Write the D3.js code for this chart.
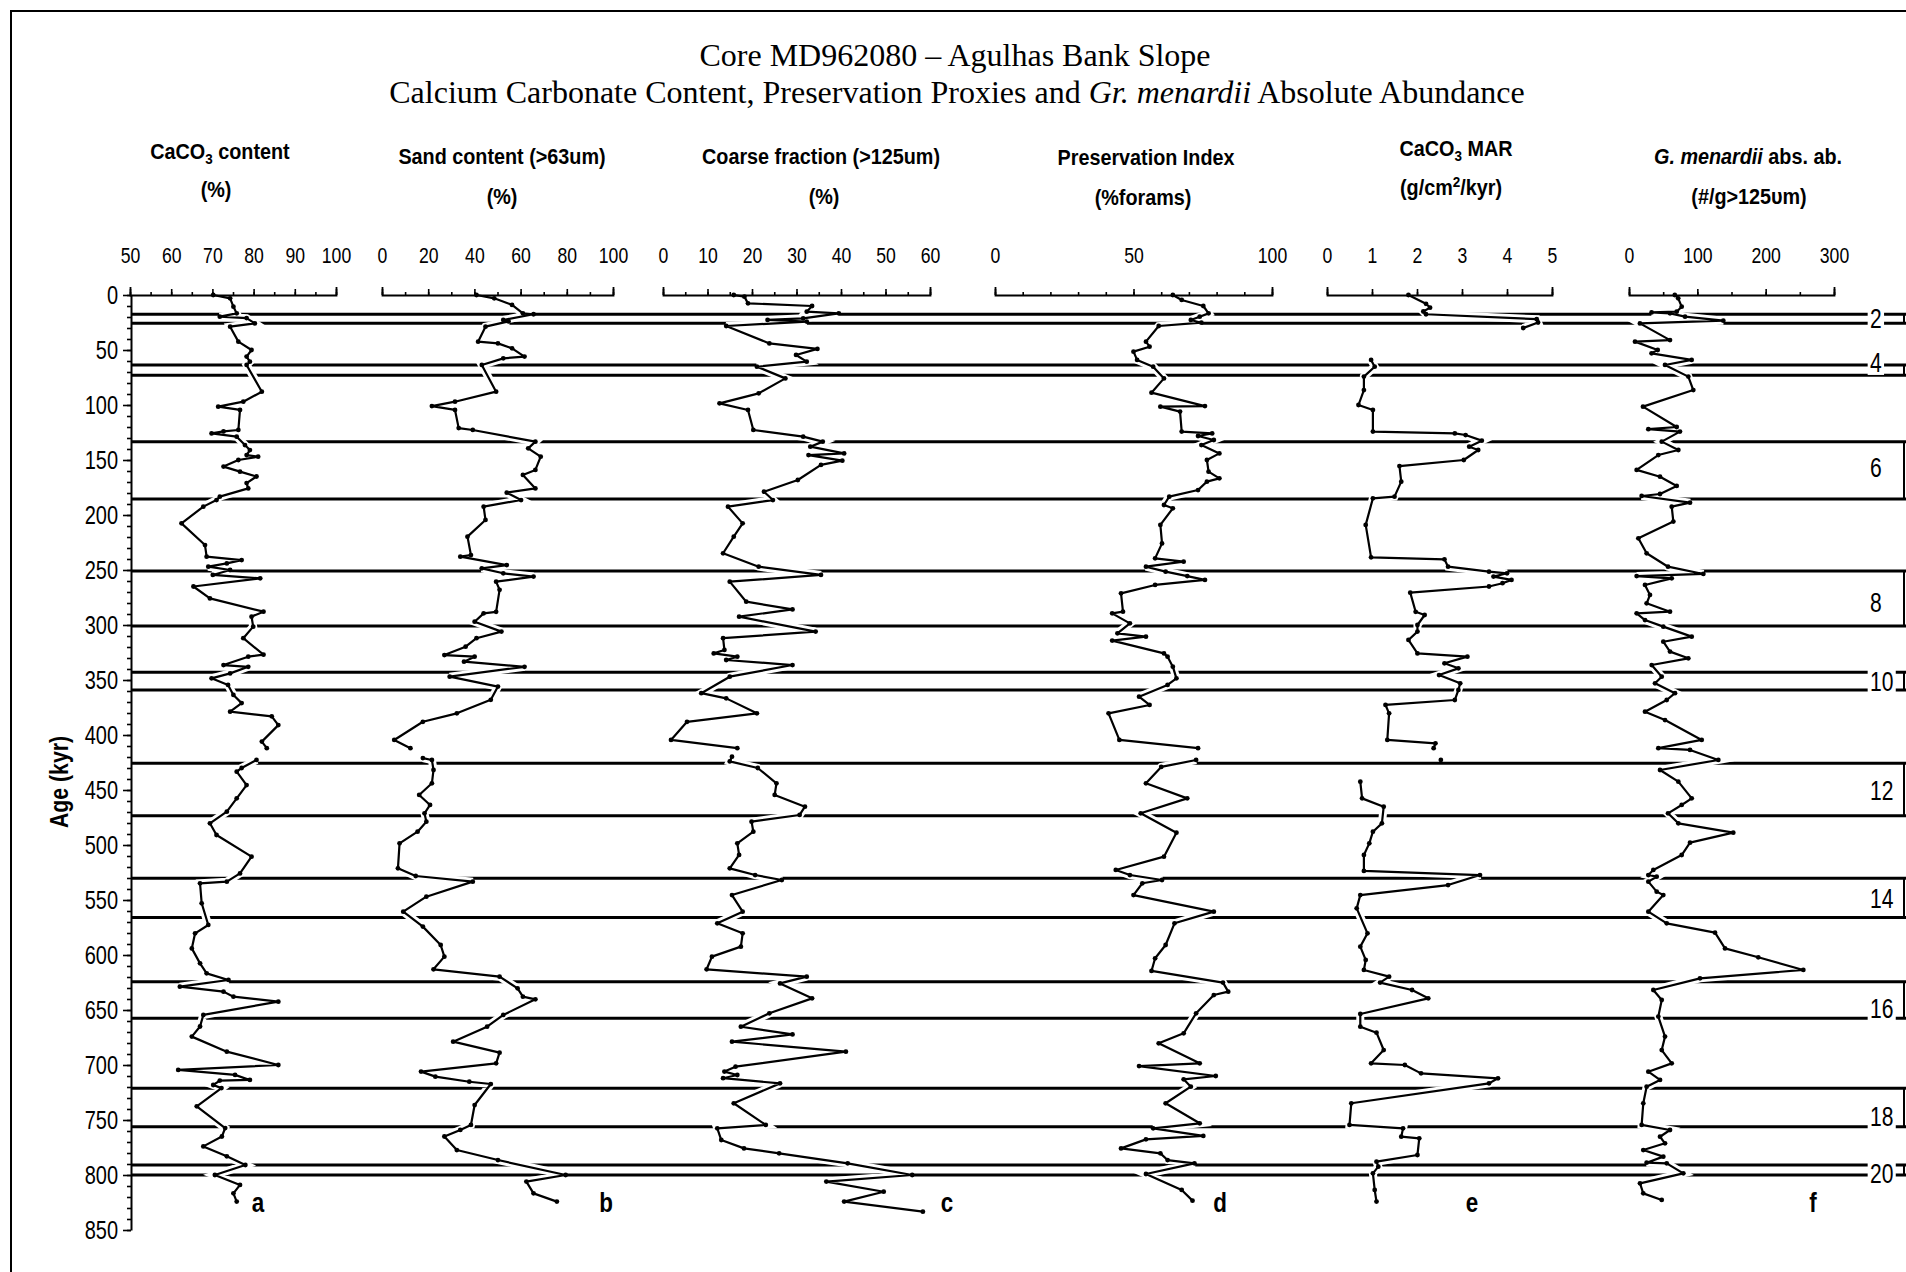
<!DOCTYPE html>
<html>
<head>
<meta charset="utf-8">
<script src="https://cdn.jsdelivr.net/npm/d3@7"></script>
<style>
  body { margin: 0; background: #fff; }
</style>
</head>
<body>
<script>
// ---- data (age in kyr) ----
const caco3Age = [0, 3, 10.6, 16.7, 19.7, 21, 25.8, 28.8, 42.4, 50, 56, 60.6, 63.6, 87.9, 97, 101.5, 104.5, 122.7, 124, 125.8, 128.8, 136.4, 141, 145.5, 147, 150, 156, 160.6, 165, 171, 175.8, 183.3, 186.4, 192.4, 207.6, 227.3, 237.9, 241, 244, 247, 250, 254.5, 257.6, 265, 275.8, 287.9, 292.4, 301.5, 312, 327, 328.8, 336.4, 338, 344, 348.5, 354.5, 363.6, 371, 378.8, 383, 391, 406, 412, 417, 422.7, 430, 433.3, 445.5, 457.6, 469.7, 480.3, 490.9, 510.6, 525.8, 533.3, 534.8, 553, 572.7, 580.3, 594, 607.6, 616.7, 622.7, 628.8, 633.3, 637.9, 642.4, 654.5, 665, 674.2, 687.9, 700, 704.5, 709, 713.6, 714.2, 718.2, 721, 737.6, 757.3, 765, 774, 783, 790.9, 800, 809, 816.7, 824.2]
const caco3Pct = [70.2, 74.3, 75.1, 75.9, 71.8, 78.3, 80.3, 74.3, 76.3, 79.5, 78.3, 79.1, 78.3, 82, 77.5, 71.4, 76.7, 76.3, 72.7, 69.8, 75.9, 77.9, 79.1, 78.3, 81.1, 76.3, 72.7, 76.7, 80.7, 78.3, 78.7, 71.8, 71, 67.8, 62.5, 68.2, 68.6, 77.1, 73.5, 69, 74.3, 70.1, 81.6, 65.4, 69.4, 82.4, 79.5, 79.9, 77.5, 82.4, 78.7, 72.7, 78.7, 74.3, 69.8, 73.8, 75.1, 77.1, 74.3, 84.4, 86, 82, 83.2, null, 80.7, 77.1, 75.9, 78.3, 75.9, 73.5, 69.4, 71, 79.5, 76.7, 73.5, 67, 67.4, 69, 65.8, 65, 67, 68.6, 73.9, 62.1, 72.7, 75.1, 86, 67.8, 67, 65, 73.5, 86, 61.7, 75.5, 79.1, 71.8, 70.2, 72.2, 66.2, 73.1, 72.3, 67.8, 73.5, 78, 70.6, 76.7, 75.1, 75.9]

const sandAge = [0, 3, 9, 16.7, 17.5, 22.7, 24, 28.8, 42.4, 44, 48.5, 56, 57.6, 63.6, 87.9, 97, 101, 104.5, 121, 122.7, 133.3, 139.4, 147, 159, 163.6, 175.8, 179.7, 186.4, 192.4, 204.5, 219.7, 236.4, 237.9, 245.5, 248.5, 253, 256, 260.6, 268, 288, 289.4, 297, 306, 312, 319.7, 327.3, 328.8, 333.3, 338, 347, 356, 368, 380.3, 388, 404.5, 412, 416, 421, 422.7, 431.8, 443.9, 454.5, 463.6, 471.2, 478.8, 487.9, 498.5, 521.2, 528.2, 533.3, 547, 560.6, 574.2, 590.9, 601.5, 613, 619.7, 630.3, 637.9, 640.3, 654.5, 665.2, 678.8, 688.8, 698.5, 706, 710.6, 715.2, 717.3, 736.4, 754.5, 759, 765, 777.3, 786.4, 800, 806, 816.7, 824.2]
const sandPct = [40.9, 48.6, 56.3, 61, 65.6, 52.5, 54.8, 44.8, 41.6, 50.2, 56.3, 61.7, 52.5, 43.2, 49.4, 31.6, 21.6, 31.6, 33.2, 39.3, 66.4, 63.3, 68.7, 66.4, 61, 66.4, 54, 60.2, 44, 44.8, 37, 38.5, 33.9, 54, 43.2, 52.5, 65.6, 49.4, 50.9, 49.4, 44, 40.1, 51.7, 40.9, 36.2, 27, 40.1, 35.5, 61.7, 29.3, 50.2, 47.1, 32.4, 17.7, 5.3, 12.3, null, 17.7, 21.6, 22.3, 21.6, 16.1, 20.8, 18.4, 19.2, 15.4, 7.6, 6.9, 14.6, 39.3, 19.2, 9.2, 17.7, 25.4, 27, 22.3, 50.9, 58.7, 61, 66.4, 52.5, 45.5, 30.8, 50.9, 49.4, 16.9, 23.1, 37.8, 47.1, 40.1, 38.5, 33.9, 27, 32.4, 50.2, 79.5, 62.5, 65.6, 75.7]

const coarseAge = [0, 1.5, 7.6, 10, 15.2, 16.7, 21.2, 22.7, 24.2, 28.2, 44, 49, 54.5, 60.6, 65.2, 75.8, 89.4, 98.5, 104.5, 122.7, 128.8, 133.3, 137.9, 144, 145.5, 150.6, 154.5, 168.2, 178.8, 186.4, 192.4, 207.6, 219.7, 234.8, 247, 254.5, 260.6, 278.8, 285.8, 292.4, 306, 312, 322.7, 325.8, 328.8, 331.8, 336.4, 347, 362, 366.7, 380.3, 388, 404.5, 412, 416, 419.7, 424, 430, 443.9, 454.5, 465.2, 472.7, 478.8, 487.9, 498.5, 509, 521.2, 527.3, 531.8, 545.5, 560.6, 571.2, 580.3, 592.4, 601.5, 613, 619.7, 625.8, 639.4, 653, 665.2, 672.2, 678.8, 687.9, 701.5, 706, 709.1, 712, 716.7, 734.8, 754.5, 757.6, 768.2, 775.8, 780.3, 789.4, 800, 806, 815.2, 824.2, 833.3]
const coarsePct = [15.9, 18.3, 19.1, 33.5, 32.3, 39.5, 31.5, 23.5, 32.3, 14.2, 23.9, 34.7, 29.9, 32.3, 21.1, 27.5, 21.5, 12.7, 19.1, 20.3, 31.5, 35.9, 33.1, 40.7, 32.7, 40.3, 35.5, 30.3, 22.7, 24.7, 14.6, 17.9, 15.9, 13.5, 21.5, 35.5, 15, 18.7, 29.1, 17.1, 34.3, 13.5, 13.8, 11.4, 16.7, 14.2, 29.1, 15, 8.6, 14.2, 21.1, 5.4, 1.8, 16.7, null, 15.5, 15, 21.3, 25.5, 25.1, 31.9, 30.7, 19.9, 20.3, 16.7, 17.1, 15, 20.7, 26.7, 15.5, 17.9, 12.2, 17.9, 17.5, 11, 9.8, 32.3, 26.3, 33.5, 23.9, 17.5, 29.1, 15.5, 41.1, 16.3, 13.8, 16.7, 13.5, 26.3, 15.9, 23.1, 12.2, 13.1, 18.2, 26.1, 41.5, 56, 36.7, 49.6, 40.7, 58.4]

const presAge = [0, 4.5, 10, 16.7, 19.7, 22.7, 25.2, 28.2, 42.4, 47, 51.5, 59, 65.2, 75.8, 88.8, 101, 101.5, 106, 124.2, 125.8, 128.2, 131.8, 136.4, 144, 150, 160.6, 166.7, 169.7, 177.3, 183.3, 190.9, 193.9, 209, 225.8, 239.4, 242.4, 247, 251.5, 255.5, 259, 263.6, 271.2, 287.9, 289.4, 298.5, 307.6, 310.6, 314.2, 325.8, 328.8, 337.9, 348.5, 354.5, 365.2, 372.7, 380.3, 404.5, 412, 417, 422.7, 429, 443.9, 457.6, 471.2, 488.8, 510.6, 522.7, 527.3, 531.8, 534.8, 545.5, 560.6, 571.2, 590.9, 603, 614.5, 625.1, 633.3, 636.4, 653, 671.2, 680.3, 698.5, 701, 710, 713, 719.7, 734.8, 753, 757.6, 764.5, 767.6, 775.8, 780.3, 786.4, 789.4, 799.1, 813.6, 823.3]
const presPct = [64.2, 67.4, 75.2, 77.1, 73.9, 70.7, 74.5, 59.1, 54.5, 55.8, 50, 51.3, 57.1, 61, 56.5, 75.8, 59.7, 66.8, 67.4, 78.4, 73.3, 79, 74.5, 81, 76.5, 77.1, 81, 76.5, 73.3, 62.9, 61, 64.2, 59.7, 60.3, 57.8, 68.1, 54.5, 61.6, 69.4, 75.8, 57.8, 45.5, 46.2, 42.3, 48.7, 44.2, 54.5, 42.3, 61, 62.3, 64.2, 65.5, 62.3, 52, 55.8, 41, 44.9, 73.3, null, 72.6, 60, 54.5, 69.4, 52.6, 65.5, 61, 43.6, 48.7, 60.3, 53.2, 50, 79, 64.8, 61.6, 57.8, 56.5, 82.3, 84.2, 79, 72.6, 68.1, 59.1, 73.9, 52, 79.7, 68.1, 70.7, 61.6, 73.9, 57.1, 75.2, 54.5, 45.5, 59.7, 62.3, 72, 54.5, 67.4, 71.3]

const marAge = [0, 8, 11.5, 15, 17.5, 22, 25, 30, 45, 59, 65.2, 74.2, 86.4, 100, 104.5, 124.2, 125.8, 127.3, 132.4, 137.9, 140.9, 150, 155.5, 169.7, 183.3, 184.8, 209, 238.5, 240.3, 247, 251.5, 253, 256, 259, 262, 265, 270.6, 288, 290.9, 300, 306, 313.6, 325.8, 328.8, 334.8, 339.4, 345.5, 353, 359, 368.2, 372.7, 380.3, 404.5, 407.6, 412, 417, 422.7, 432, 442.4, 457.6, 465.2, 480.3, 487.9, 498.5, 509.1, 523.6, 527.3, 536.4, 545.5, 557.6, 580.3, 592.4, 604.5, 613.6, 619.7, 625.1, 631.8, 639.4, 653.6, 665.2, 670.6, 686.4, 698.5, 700, 707.6, 712.1, 716.7, 734.8, 754.5, 757.6, 765.2, 766.7, 781.8, 787.9, 792.4, 798.5, 813.6, 824.2]
const marVal = [1.81, 2.2, 2.29, 2.14, 2.2, 4.66, 4.69, 4.36, null, 0.98, 1.06, 0.82, 0.82, 0.7, 1.02, 1.02, 2.84, 3.08, 3.44, 3.16, 3.36, 3.04, 1.61, 1.65, 1.5, 1.02, 0.86, 0.98, 2.61, 2.69, 3.6, 4.0, 3.7, 4.1, 3.9, 3.6, 1.85, 1.97, 2.17, 2.01, 2.01, 1.81, 2.01, 3.12, 2.61, 2.92, 2.49, 2.96, 2.92, 2.84, 1.3, 1.38, 1.34, 2.41, 2.37, null, 2.53, null, 0.74, 0.78, 1.26, 1.22, 1.02, 0.94, 0.82, 0.82, 3.4, 2.69, 0.74, 0.66, 0.9, 0.74, 0.86, 0.82, 1.38, 1.18, 1.89, 2.25, 0.74, 0.74, 1.1, 1.26, 0.98, 1.73, 2.09, 3.8, 3.6, 0.54, 0.5, 1.69, 1.65, 2.05, 2.01, 1.1, 1.14, 1.02, 1.06, 1.1]

const menAge = [0, 3, 10.6, 15.2, 15.8, 16.7, 19.7, 23.3, 25.8, 41, 42.4, 50, 53, 59, 63.6, 74.2, 86.4, 101.5, 120, 122, 124.2, 133.3, 140.9, 145.5, 159, 165.2, 173.6, 180.9, 182.7, 188.8, 192.4, 206, 221.2, 234.8, 247, 253.6, 255.5, 257.6, 263.6, 272.7, 280.3, 287.9, 289.4, 295.5, 301.5, 310.6, 315.2, 324.2, 330.3, 336.4, 347, 353, 362, 368.2, 378.8, 386.4, 404.5, 412, 413.6, 422.7, 431.8, 442.4, 457.6, 463.6, 471.2, 480.3, 488.8, 497.9, 509.1, 522.7, 527.3, 528.8, 533.3, 542.4, 545.5, 560.6, 571.2, 579.7, 594, 602.1, 613.6, 621.2, 631.8, 640.9, 656, 674.2, 686.4, 698.5, 706.1, 713.6, 719.7, 734.8, 754.5, 759.1, 765.2, 771.2, 777.3, 783.3, 788.8, 789.4, 798.5, 807.6, 816.7, 822.7]
const menAbund = [67, 72, 77.1, 69.8, 33, 60, 82, 138, 16, 60, 8.8, 42, 33, 91.7, 52.7, 86.8, 94.1, 20.5, 69.8, 28.3, 74.6, 47.9, 72.2, 42.9, 11.2, 45.4, 69.8, 45.4, 18.5, 89.3, 62.5, 64.9, 13.7, 25.8, 57.1, 108.8, 11.2, 62.5, 23.4, 30.7, 25.8, 60, 11.2, 23.4, 50.2, 91.8, 50.2, 60, 86.8, 33.2, 47.9, 38.1, 67.3, 55.2, 23.4, 52.7, 106.4, 42.9, 89.3, 130.7, 45.4, 72.2, 91.8, 77.1, 57.1, 72.2, 152.6, 89.3, 77.1, 35.6, 28.3, 40.5, 28.3, 40.5, 50.2, 28.3, 55.2, 125.9, 140.5, 189.2, 255.1, 103.9, 35.6, 47.9, 42.9, 52.7, 47.9, 62.5, 28.3, 45.4, 25.8, 20.9, 18.5, 60, 45.4, 52.7, 20.9, 50.2, 25.8, 55.2, 79.5, 16.1, 20.9, 47.9]

// MIS boundaries (kyr) and stage labels
const misBounds = [17.5, 25.7, 63.6, 73, 133.4, 185.5, 251, 301, 343, 359, 425.7, 473.4, 530.3, 566, 624.3, 657.5, 721.2, 756.1, 790.9, 800]
const misLabels = ['2', '4', '6', '8', '10', '12', '14', '16', '18', '20']
const misLabelAge = [20.9, 61.5, 156.4, 279, 351.5, 450, 548, 648, 747, 798]

// tick labels
const caco3Ticks = [50, 60, 70, 80, 90, 100]
const sandTicks = [0, 20, 40, 60, 80, 100]
const coarseTicks = [0, 10, 20, 30, 40, 50, 60]
const presTicks = [0, 50, 100]
const marTicks = [0, 1, 2, 3, 4, 5]
const menTicks = [0, 100, 200, 300]
const ageTicks = d3.range(0, 851, 50)

// ---- layout ----
// no narrow face installed, so Liberation Sans is squeezed horizontally
const sans = '"Liberation Sans", Arial, sans-serif'
const serif = '"Liberation Serif", "Times New Roman", serif'
const squeeze = 0.8
const axisY = 295
const axisX = 131

const svg = d3.select('body').append('svg')
  .attr('width', 1906)
  .attr('height', 1272)
  .style('display', 'block')

svg.append('rect').attr('width', 1906).attr('height', 1272).attr('fill', '#fff')

const y = d3.scaleLinear().domain([0, 850]).range([axisY, 1230])

const panels = [
  {letter: 'a', age: caco3Age, val: caco3Pct, domain: [50, 100], range: [130, 336], ticks: caco3Ticks, step: 5, letterX: 258},
  {letter: 'b', age: sandAge, val: sandPct, domain: [0, 100], range: [382, 613], ticks: sandTicks, step: 10, letterX: 606},
  {letter: 'c', age: coarseAge, val: coarsePct, domain: [0, 60], range: [663, 930], ticks: coarseTicks, step: 5, letterX: 947},
  {letter: 'd', age: presAge, val: presPct, domain: [0, 100], range: [995, 1272], ticks: presTicks, step: 10, letterX: 1220},
  {letter: 'e', age: marAge, val: marVal, domain: [0, 5], range: [1327, 1552], ticks: marTicks, step: 1, letterX: 1472},
  {letter: 'f', age: menAge, val: menAbund, domain: [0, 300], range: [1629, 1834], ticks: menTicks, step: 50, letterX: 1813}
]
panels.forEach(p => {
  p.x = d3.scaleLinear().domain(p.domain).range(p.range)
  p.pts = p.age.map((a, i) => ({age: a, v: p.val[i]}))
  p.line = d3.line().defined(d => d.v != null).x(d => p.x(d.v)).y(d => y(d.age))
})

// squeezed text placed at x,y
function label(x, yy, sx, opts = {}) {
  const g = svg.append('g').attr('transform', `translate(${x},${yy}) ${opts.rotate ? 'rotate(-90) ' : ''}scale(${sx},1)`)
  const t = g.append('text')
    .attr('text-anchor', opts.anchor || 'middle')
    .attr('font-family', opts.family || sans)
    .attr('font-size', opts.size || 22)
    .attr('font-weight', opts.bold ? 'bold' : 'normal')
  return t
}

// frame
svg.append('path')
  .attr('d', 'M11,1272 V11 H1906')
  .attr('fill', 'none')
  .attr('stroke', '#000')
  .attr('stroke-width', 2)

// MIS boundary lines
svg.append('g').selectAll('line')
  .data(misBounds)
  .join('line')
  .attr('x1', axisX)
  .attr('x2', 1906)
  .attr('y1', d => y(d))
  .attr('y2', d => y(d))
  .attr('stroke', '#000')
  .attr('stroke-width', 3)

// right edge of the stage bands
svg.append('g').selectAll('line')
  .data(d3.range(0, misBounds.length, 2))
  .join('line')
  .attr('x1', 1904).attr('x2', 1904)
  .attr('y1', i => y(misBounds[i]))
  .attr('y2', i => y(misBounds[i + 1]))
  .attr('stroke', '#000')
  .attr('stroke-width', 2)

// white halo under each curve (breaks the stage lines like the original)
panels.forEach(p => {
  svg.append('path')
    .datum(p.pts)
    .attr('d', p.line)
    .attr('fill', 'none')
    .attr('stroke', '#fff')
    .attr('stroke-width', 8)
})

// top axes
panels.forEach(p => {
  const minor = d3.range(p.domain[0], p.domain[1] + 1e-9, p.step)
  const gm = svg.append('g')
    .attr('transform', `translate(0,${axisY})`)
    .call(d3.axisTop(p.x).tickValues(minor).tickSize(3).tickFormat(''))
  gm.select('.domain').remove()
  gm.selectAll('line').attr('stroke-width', 1.6)

  const g = svg.append('g')
    .attr('transform', `translate(0,${axisY})`)
    .call(d3.axisTop(p.x).tickValues(p.ticks).tickSize(6).tickSizeOuter(8).tickPadding(26).tickFormat(d3.format('d')))
  g.attr('font-family', sans).attr('font-size', 22)
  g.select('.domain').attr('stroke-width', 1.8)
  g.selectAll('line').attr('stroke-width', 1.6)
  g.selectAll('text').attr('fill', '#000').attr('transform', `scale(${squeeze},1)`)
})

// left age axis
const gMinorY = svg.append('g')
  .attr('transform', `translate(${axisX},0)`)
  .call(d3.axisLeft(y).tickValues(d3.range(0, 851, 10)).tickSize(4).tickFormat(''))
gMinorY.select('.domain').remove()
gMinorY.selectAll('line').attr('stroke-width', 1.6)

const gY = svg.append('g')
  .attr('transform', `translate(${axisX},0)`)
  .call(d3.axisLeft(y).tickValues(ageTicks).tickSize(8).tickSizeOuter(0).tickPadding(5))
gY.attr('font-family', sans).attr('font-size', 25)
gY.select('.domain').attr('stroke-width', 2)
gY.selectAll('line').attr('stroke-width', 1.6)
gY.selectAll('text')
  .attr('fill', '#000')
  .attr('x', -13 / squeeze)
  .attr('transform', `scale(${squeeze},1)`)

label(68, 782, 0.85, {rotate: true, bold: true, size: 25}).text('Age (kyr)')

// curves and sample dots
panels.forEach(p => {
  svg.append('path')
    .datum(p.pts)
    .attr('d', p.line)
    .attr('fill', 'none')
    .attr('stroke', '#000')
    .attr('stroke-width', 2.2)
    .attr('stroke-linejoin', 'round')

  svg.append('g').selectAll('circle')
    .data(p.pts.filter(d => d.v != null))
    .join('circle')
    .attr('cx', d => p.x(d.v))
    .attr('cy', d => y(d.age))
    .attr('r', 2.4)
    .attr('fill', '#000')

  label(p.letterX, 1212, 0.8, {bold: true, size: 28}).text(p.letter)
})

// stage labels on the right
misLabels.forEach((lab, i) => {
  const t = label(1870, y(misLabelAge[i]), 0.78, {anchor: 'start', size: 27})
    .attr('dy', '0.36em')
    .text(lab)
  const bb = t.node().getBBox()
  d3.select(t.node().parentNode).insert('rect', 'text')
    .attr('x', bb.x - 3)
    .attr('y', bb.y + 3)
    .attr('width', bb.width + 6)
    .attr('height', bb.height - 6)
    .attr('fill', '#fff')
})

// panel headers
const hs = 0.9
let t

t = label(220, 159, hs, {bold: true})
t.append('tspan').text('CaCO')
t.append('tspan').attr('font-size', 15).attr('dy', 5).text('3')
t.append('tspan').attr('dy', -5).text(' content')
label(216, 197, hs, {bold: true}).text('(%)')

label(502, 164, hs, {bold: true}).text('Sand content (>63um)')
label(502, 204, hs, {bold: true}).text('(%)')

label(821, 164, hs, {bold: true}).text('Coarse fraction (>125um)')
label(824, 204, hs, {bold: true}).text('(%)')

label(1146, 165, hs, {bold: true}).text('Preservation Index')
label(1143, 205, hs, {bold: true}).text('(%forams)')

t = label(1456, 156, hs, {bold: true})
t.append('tspan').text('CaCO')
t.append('tspan').attr('font-size', 15).attr('dy', 5).text('3')
t.append('tspan').attr('dy', -5).text(' MAR')
t = label(1451, 195, hs, {bold: true})
t.append('tspan').text('(g/cm')
t.append('tspan').attr('font-size', 15).attr('dy', -8).text('2')
t.append('tspan').attr('dy', 8).text('/kyr)')

t = label(1748, 164, hs, {bold: true})
t.append('tspan').attr('font-style', 'italic').text('G. menardii')
t.append('tspan').text(' abs. ab.')
label(1749, 204, hs, {bold: true}).text('(#/g>125υm)')

// title
label(955, 66, 1, {family: serif, size: 32}).text('Core MD962080 – Agulhas Bank Slope')
t = label(957, 103, 1, {family: serif, size: 32})
t.append('tspan').text('Calcium Carbonate Content, Preservation Proxies and ')
t.append('tspan').attr('font-style', 'italic').text('Gr. menardii')
t.append('tspan').text(' Absolute Abundance')
</script>
</body>
</html>
